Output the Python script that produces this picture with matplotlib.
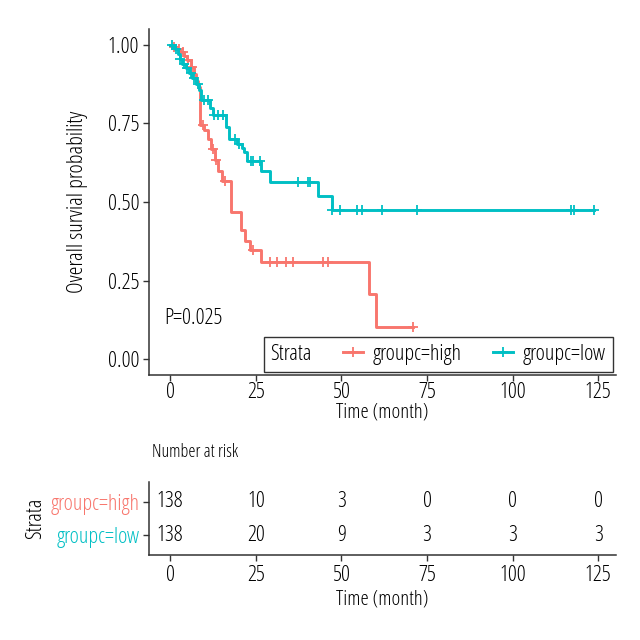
import numpy as np
import matplotlib
matplotlib.use("Agg")
import matplotlib.pyplot as plt
from matplotlib.lines import Line2D
from matplotlib.offsetbox import HPacker

# condensed sans, close to the narrow font of the reference
plt.rcParams["font.family"] = ["Open Sans", "DejaVu Sans"]
plt.rcParams["font.stretch"] = "condensed"

# ---- data ----
high_t = [0, 1.0, 2.0, 3.0, 4.0, 5.0, 6.0, 7.0, 7.5, 8.0, 8.6, 10.0, 11.0, 12.0,
          13.0, 14.0, 15.0, 17.8, 20.7, 21.7, 23.2, 26.6, 58.2, 60.2, 70.9]
high_s = [1.0, 0.993, 0.986, 0.978, 0.964, 0.95, 0.928, 0.906, 0.885, 0.865, 0.746,
          0.73, 0.70, 0.67, 0.635, 0.60, 0.566, 0.469, 0.41, 0.376, 0.346, 0.31,
          0.206, 0.104, 0.104]
high_cens = [1.2, 2.5, 3.8, 5.2, 6.5, 9.5, 12.5, 13.5, 16.0, 24.2, 29.0, 31.3,
             33.9, 35.9, 44.7, 46.2, 70.9]

low_t = [0, 0.8, 1.5, 2.2, 2.8, 3.5, 4.5, 5.5, 6.5, 7.5, 8.5, 9.0, 11.5, 12.5,
         16.3, 17.3, 19.5, 21.0, 21.5, 22.3, 26.6, 29.0, 43.2, 47.2, 123.7]
low_s = [1.0, 0.993, 0.985, 0.97, 0.955, 0.94, 0.925, 0.91, 0.895, 0.875, 0.857,
         0.825, 0.80, 0.775, 0.74, 0.70, 0.685, 0.672, 0.66, 0.63, 0.60, 0.563,
         0.518, 0.475, 0.475]
low_cens = [0.5, 1.8, 3.0, 4.0, 5.0, 6.0, 7.0, 8.0, 10.0, 11.0, 12.9, 13.9, 15.4,
            19.0, 20.0, 23.7, 24.2, 26.1, 37.4, 40.3, 40.8, 47.2, 49.6, 54.5, 56.0,
            61.8, 72.1, 117.1, 117.9, 123.7]

risk_times = [0, 25, 50, 75, 100, 125]
risk_high = [138, 10, 3, 0, 0, 0]
risk_low = [138, 20, 9, 3, 3, 3]

groups = ["groupc=high", "groupc=low"]
colors = ["#F8766D", "#00BFC4"]
p_text = "P=0.025"

FS = 16
dark = "#333333"

fig = plt.figure(figsize=(6.4, 6.4), dpi=100)
ax = fig.add_axes([149 / 640, 1 - 375 / 640, 467 / 640, 346 / 640])
ax2 = fig.add_axes([149 / 640, 1 - 555 / 640, 467 / 640, 73 / 640])


def surv_at(ts, ss, c):
    i = np.searchsorted(ts, c, side="right") - 1
    return np.array(ss)[i]


for t, s, cens, col in [(high_t, high_s, high_cens, colors[0]),
                        (low_t, low_s, low_cens, colors[1])]:
    ax.step(t, s, where="post", color=col, lw=2.1)
    ax.plot(cens, surv_at(t, s, cens), ls="none", marker="+", ms=7, mew=1.3, color=col)

ax.set_xlim(-6.2, 130.2)
ax.set_ylim(-0.05, 1.05)
ax.set_xticks(risk_times)
ax.set_yticks([0, 0.25, 0.5, 0.75, 1.0])
ax.set_yticklabels(["0.00", "0.25", "0.50", "0.75", "1.00"])
ax.set_xlabel("Time (month)", fontsize=15, labelpad=0)
ax.set_ylabel("Overall survial probability", fontsize=FS)
ax.yaxis.set_label_coords(-0.13, 0.5)
ax.text(-1.8, 0.13, p_text, fontsize=FS, ha="left", va="center")

handles = [Line2D([], [], color=c, lw=2.1, marker="+", ms=7, mew=1.3) for c in colors]
leg = ax.legend(handles, groups, title="Strata", ncol=2, loc="lower right",
                bbox_to_anchor=(1.0, 0.0), fontsize=FS, title_fontsize=FS,
                frameon=True, fancybox=False, borderaxespad=0.15,
                handlelength=0.9, handletextpad=0.45, columnspacing=1.4,
                borderpad=0.3)
leg.get_frame().set_edgecolor("black")
leg.get_frame().set_linewidth(1.0)
# put the legend title to the left of the entries, like ggplot
try:
    box = HPacker(pad=leg.borderpad * FS, sep=1.4 * FS, align="center",
                  children=[leg._legend_title_box, leg._legend_handle_box])
    box.set_figure(fig)
    box.axes = ax
    leg._legend_box = box
    leg._set_loc(leg._loc)
except Exception:
    pass

# ---- risk table ----
for y, vals in [(2, risk_high), (1, risk_low)]:
    for x, v in zip(risk_times, vals):
        ax2.text(x, y, str(v), fontsize=FS, ha="center", va="center")
ax2.set_xlim(-6.2, 130.2)
ax2.set_ylim(0.4, 2.6)
ax2.set_xticks(risk_times)
ax2.set_yticks([2, 1])
ax2.set_yticklabels(groups)
ax2.set_xlabel("Time (month)", fontsize=15, labelpad=3)
ax2.set_ylabel("Strata", fontsize=FS)
ax2.yaxis.set_label_coords(-0.22, 0.5)
ax2.text(0.006, 1.41, "Number at risk", transform=ax2.transAxes, fontsize=13,
         ha="left", va="center")

for a in (ax, ax2):
    for sp in ("top", "right"):
        a.spines[sp].set_visible(False)
    for sp in ("left", "bottom"):
        a.spines[sp].set_linewidth(1.1)
        a.spines[sp].set_color(dark)
    a.tick_params(axis="both", direction="out", length=4, width=1.0, color=dark,
                  labelsize=FS, labelcolor="black", pad=3)
ax.tick_params(axis="x", pad=1)
for lab, c in zip(ax2.get_yticklabels(), colors):
    lab.set_color(c)

fig.savefig("out.png", dpi=100)
